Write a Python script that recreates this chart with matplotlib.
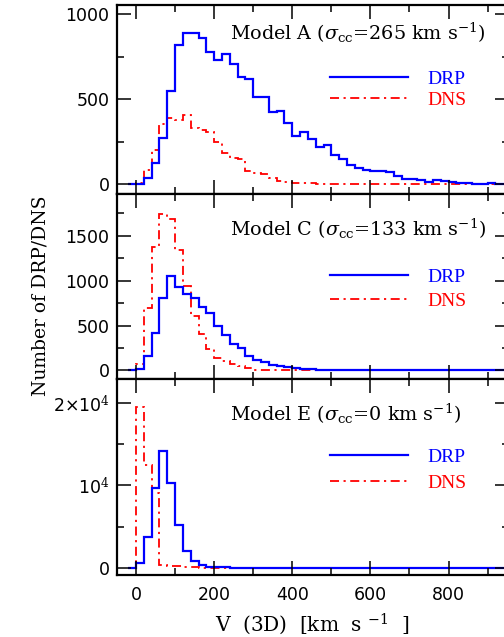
import numpy as np
import matplotlib
matplotlib.use("Agg")
import matplotlib.pyplot as plt
from matplotlib.ticker import MultipleLocator
from matplotlib.lines import Line2D

# histogram bins: 20 km/s wide, first bin starts at -20
bin_lo = -20
bin_w = 20

# Model A
drp_a = [0, 2, 35, 127, 275, 549, 820, 892, 892, 859, 780, 731, 765, 706, 633, 622,
         516, 512, 425, 431, 359, 284, 306, 265, 218, 232, 172, 152, 113, 97, 86, 78,
         78, 74, 49, 29, 33, 23, 16, 23, 19, 14, 10, 6, 4, 4, 6, 4, 3]
dns_a = [0, 10, 84, 202, 353, 388, 378, 408, 329, 320, 309, 251, 186, 157, 150, 78,
         65, 60, 35, 20, 12, 8, 5, 5, 4, 3, 3, 2, 2, 2, 1, 1, 1, 1, 1, 0, 0, 0, 0, 0,
         0, 0, 0, 0, 0, 0, 0, 0, 0]
# Model C
drp_c = [0, 15, 164, 420, 803, 1052, 933, 848, 810, 703, 636, 498, 398, 294, 245, 164,
         112, 93, 63, 52, 33, 22, 15, 11, 8, 6, 5, 4, 3, 3, 2, 2, 1, 1, 1, 0, 0, 0, 0,
         0, 0, 0, 0, 0, 0, 0, 0, 0, 0]
dns_c = [0, 71, 691, 1372, 1740, 1691, 1338, 941, 606, 401, 234, 134, 108, 71, 52, 30,
         7, 4, 2, 1, 0, 0, 0, 0, 0, 0, 0, 0, 0, 0, 0, 0, 0, 0, 0, 0, 0, 0, 0, 0, 0, 0,
         0, 0, 0, 0, 0, 0, 0]
# Model E
drp_e = [0, 527, 3730, 9650, 14150, 10340, 5190, 2050, 790, 325, 120, 40, 15, 5, 0, 0,
         0, 0, 0, 0, 0, 0, 0, 0, 0, 0, 0, 0, 0, 0, 0, 0, 0, 0, 0, 0, 0, 0, 0, 0, 0, 0,
         0, 0, 0, 0, 0, 0, 0]
dns_e = [0, 19590, 12490, 9100, 320, 250, 150, 60, 30, 10, 5, 0, 0, 0, 0, 0, 0, 0, 0,
         0, 0, 0, 0, 0, 0, 0, 0, 0, 0, 0, 0, 0, 0, 0, 0, 0, 0, 0, 0, 0, 0, 0, 0, 0, 0,
         0, 0, 0, 0]

titles = [r"Model A ($\sigma_{\rm cc}$=265 km s$^{-1}$)",
          r"Model C ($\sigma_{\rm cc}$=133 km s$^{-1}$)",
          r"Model E ($\sigma_{\rm cc}$=0 km s$^{-1}$)"]

plt.rcParams['mathtext.fontset'] = 'dejavuserif'

fig = plt.figure(figsize=(5.04, 6.37), dpi=100)
L, W = 0.2312, 0.7788
pos = [[L, 0.6962, W, 0.2959], [L, 0.4058, W, 0.2904], [L, 0.0973, W, 0.3085]]
ylims = [(-54, 1055), (-90, 1970), (-900, 23000)]
title_y = [0.814, 0.769, 0.787]
leg_y = [0.552, 0.484, 0.533]
data = [(drp_a, dns_a), (drp_c, dns_c), (drp_e, dns_e)]

red_ls = (0, (5, 2.5, 1.2, 2.5))

for i in range(3):
    ax = fig.add_axes(pos[i])
    drp, dns = data[i]
    edges = bin_lo + bin_w * np.arange(len(drp) + 1)
    ax.stairs(dns, edges, color="red", lw=1.3, linestyle=red_ls, baseline=None)
    ax.stairs(drp, edges, color="blue", lw=1.6, baseline=None)
    ax.set_xlim(-50, 955)
    ax.set_ylim(*ylims[i])
    ax.xaxis.set_major_locator(MultipleLocator(200))
    ax.xaxis.set_minor_locator(MultipleLocator(100))
    if i < 2:
        ax.yaxis.set_major_locator(MultipleLocator(500))
        ax.yaxis.set_minor_locator(MultipleLocator(250))
        ax.set_xticklabels([])
    else:
        ax.set_yticks([0, 10000, 20000])
        ax.set_yticklabels(["0", "10$^4$", "2×10$^4$"])
        ax.yaxis.set_minor_locator(MultipleLocator(5000))
    ax.tick_params(which="both", direction="in", top=True, right=True,
                   width=1.1, labelsize=12.5)
    ax.tick_params(axis="y", pad=5)
    ax.tick_params(axis="x", pad=8)
    ax.tick_params(which="major", length=10)
    ax.tick_params(which="minor", length=5)
    for sp in ax.spines.values():
        sp.set_linewidth(1.6)
    ax.text(0.289, title_y[i], titles[i], transform=ax.transAxes,
            family="DejaVu Serif", fontsize=13.8, va="baseline", ha="left")
    handles = [Line2D([], [], color="blue", lw=1.6),
               Line2D([], [], color="red", lw=1.3, linestyle=red_ls)]
    ax.legend(handles, ["DRP", "DNS"], loc="center left",
              bbox_to_anchor=(0.544, leg_y[i]), frameon=False,
              handlelength=4.0, handletextpad=1.0, borderpad=0,
              borderaxespad=0, labelspacing=[0.2, 0.35, 0.45][i],
              labelcolor="linecolor",
              prop={"family": "Liberation Serif", "size": 14})
    if i == 2:
        ax.set_xlabel(r"V  (3D)  [km  s $^{-1}$  ]", family="DejaVu Serif",
                      fontsize=14.5, labelpad=5)

fig.text(0.08, 0.535, "Number of DRP/DNS", rotation=90, ha="center",
         va="center", family="DejaVu Serif", fontsize=13.5)

fig.savefig("out.png", dpi=100)
